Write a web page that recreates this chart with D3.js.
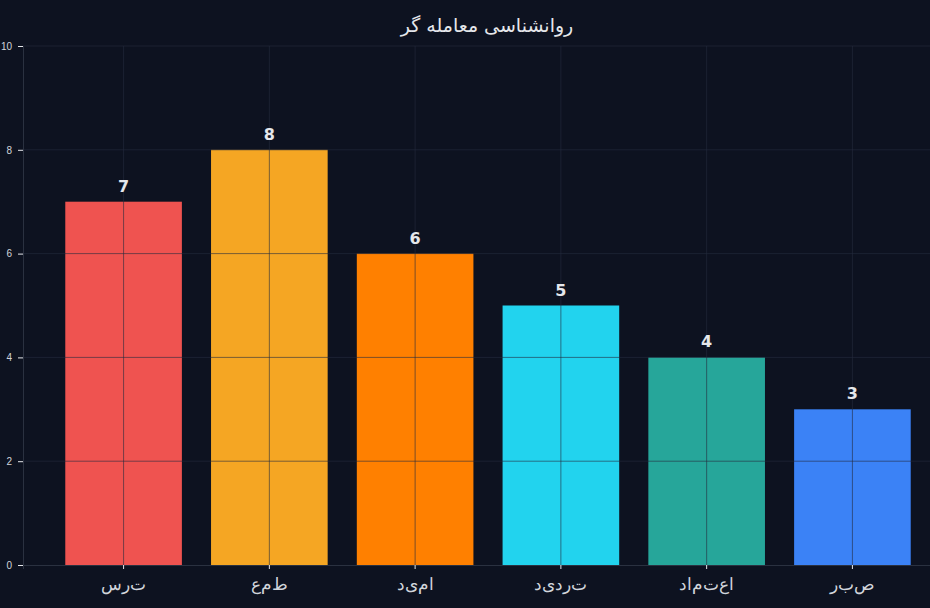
<!DOCTYPE html>
<html lang="fa">
<head>
    <meta charset="UTF-8">
    <title>روانشناسی معامله گر</title>
    <script src="https://cdnjs.cloudflare.com/ajax/libs/d3/7.8.2/d3.min.js"></script>
    <style>
        body{
            margin: 0;
            background-color: #0d1220;
            overflow: hidden;
        }
        svg{
            display: block;
            background-color: #0d1220;
            font-family: "DejaVu Sans", sans-serif;
        }
    </style>
</head>
<body>
    <div class="container"></div>
    <script>
        // data
        let categories = ['ترس', 'طمع', 'امید', 'تردید', 'اعتماد', 'صبر'];
        let values = [7, 8, 6, 5, 4, 3];
        let colors = ['#ef5350', '#f5a623', '#ff8000', '#22d3ee', '#26a69a', '#3b82f6'];
        let yTicks = [0, 2, 4, 6, 8, 10];
        let title = 'روانشناسی معامله گر';

        let width = 930;
        let height = 608;
        let plotLeft = 23, plotTop = 46, plotBottom = 565, plotRight = 953;

        let svg = d3.select('.container').append('svg')
                    .attr('width', width).attr('height', height);

        let xScale = d3.scaleBand()
                       .domain(categories)
                       .range([plotLeft, plotRight])
                       .paddingInner(0.2)
                       .paddingOuter(0.29);

        let yScale = d3.scaleLinear()
                       .domain([0, 10])
                       .range([plotBottom, plotTop]);

        // bars
        svg.selectAll('rect.bar')
            .data(values)
            .enter()
            .append('rect')
            .attr('class', 'bar')
            .attr('x', (d, i) => xScale(categories[i]))
            .attr('width', xScale.bandwidth())
            .attr('y', d => yScale(d))
            .attr('height', d => plotBottom - yScale(d))
            .attr('fill', (d, i) => colors[i]);

        // grid drawn over the bars
        let gridColor = 'rgba(36,44,62,0.6)';
        svg.append('g').selectAll('line')
            .data(yTicks.slice(1))
            .enter().append('line')
            .attr('x1', plotLeft).attr('x2', plotRight)
            .attr('y1', d => yScale(d)).attr('y2', d => yScale(d))
            .attr('stroke', gridColor).attr('stroke-width', 1);

        svg.append('g').selectAll('line')
            .data(categories)
            .enter().append('line')
            .attr('x1', d => xScale(d) + xScale.bandwidth() / 2)
            .attr('x2', d => xScale(d) + xScale.bandwidth() / 2)
            .attr('y1', plotTop).attr('y2', plotBottom)
            .attr('stroke', gridColor).attr('stroke-width', 1);

        // axes
        let yAxis = d3.axisLeft(yScale).tickValues(yTicks).tickSize(5).tickPadding(6);
        let yg = svg.append('g').attr('transform', `translate(${plotLeft},0)`).call(yAxis);
        yg.select('.domain').attr('stroke', '#2a3140');
        yg.selectAll('.tick line').attr('stroke', '#e5e7eb');
        yg.selectAll('.tick text').attr('fill', '#d1d5db').style('font-size', '10px');

        // the reference draws the tick labels with letters in isolated form
        let isolated = {
            'ت': '\uFE95', 'ر': '\uFEAD', 'س': '\uFEB1', 'ط': '\uFEC1',
            'م': '\uFEE1', 'ع': '\uFEC9', 'ا': '\uFE8D', 'ی': '\uFBFC',
            'د': '\uFEA9', 'ص': '\uFEB9', 'ب': '\uFE8F'
        };
        let unjoined = (s) => s.split('').map(c => isolated[c] || c).join('');

        let xAxis = d3.axisBottom(xScale).tickSize(4).tickPadding(9).tickFormat(unjoined);
        let xg = svg.append('g').attr('transform', `translate(0,${plotBottom})`).call(xAxis);
        xg.select('.domain').attr('stroke', '#2a3140');
        xg.selectAll('.tick line').attr('stroke', '#e5e7eb');
        xg.selectAll('.tick text').attr('fill', '#d1d5db').style('font-size', '17px');

        // value labels
        svg.selectAll('text.value')
            .data(values)
            .enter()
            .append('text')
            .attr('class', 'value')
            .attr('x', (d, i) => xScale(categories[i]) + xScale.bandwidth() / 2)
            .attr('y', d => yScale(d) - 10)
            .attr('text-anchor', 'middle')
            .attr('fill', '#e5e7eb')
            .style('font-size', '16px')
            .style('font-weight', 'bold')
            .text(d => d);

        // title
        svg.append('text')
            .attr('x', 487).attr('y', 32)
            .attr('text-anchor', 'middle')
            .attr('fill', '#e5e7eb')
            .style('font-size', '19px')
            .text(title);
    </script>
</body>
</html>
